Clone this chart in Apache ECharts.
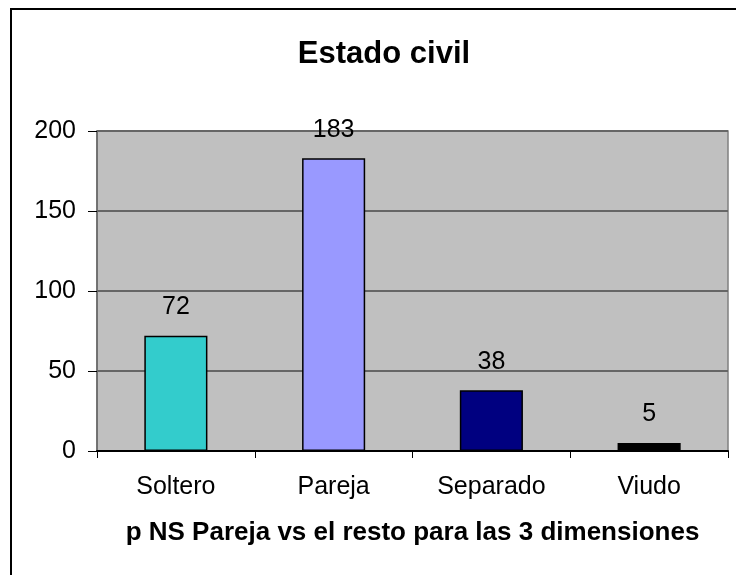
<!DOCTYPE html>
<html>
<head>
    <meta charset="utf-8">
    <title>Estado civil</title>
    <script src="https://cdn.jsdelivr.net/npm/echarts@6/dist/echarts.min.js"></script>
    <style>
        html, body { margin: 0; padding: 0; background: #fff; }
        #main { width: 736px; height: 575px; }
    </style>
</head>
<body>
<div id="main"></div>
<script type="text/javascript">
    var categories = ['Soltero', 'Pareja', 'Separado', 'Viudo'];
    var values = [72, 183, 38, 5];
    var barColors = ['#33CCCC', '#9999FF', '#000080', '#000000'];
    var yTicks = [0, 50, 100, 150, 200];

    var font = 'Liberation Sans, Arial, sans-serif';
    var myChart = echarts.init(document.getElementById('main'));

    var option = {
        animation: false,
        title: {
            text: 'Estado civil',
            left: 379,
            top: 34,
            textAlign: 'center',
            textStyle: { fontFamily: font, fontSize: 31, fontWeight: 'bold', color: '#000' }
        },
        grid: {
            left: 97, top: 131, right: 8, bottom: 124,
            show: true,
            backgroundColor: '#C0C0C0',
            borderColor: '#808080',
            borderWidth: 1.5
        },
        xAxis: {
            type: 'category',
            data: categories,
            name: 'p NS Pareja vs el resto para las 3 dimensiones',
            nameLocation: 'middle',
            nameGap: 69,
            nameTextStyle: { fontFamily: font, fontSize: 26, fontWeight: 'bold', color: '#000' },
            axisLine: { lineStyle: { color: '#000', width: 2 } },
            axisTick: { show: true, length: 7, lineStyle: { color: '#000', width: 1 } },
            axisLabel: { fontFamily: font, fontSize: 25, color: '#000', margin: 24 }
        },
        yAxis: {
            type: 'value',
            min: yTicks[0],
            max: yTicks[yTicks.length - 1],
            interval: 50,
            axisLine: { show: true, lineStyle: { color: '#666', width: 1.5 } },
            axisTick: { show: true, length: 9, lineStyle: { color: '#000', width: 1 } },
            axisLabel: { fontFamily: font, fontSize: 25, color: '#000', margin: 21 },
            splitLine: { lineStyle: { color: '#666', width: 2 } }
        },
        series: [
            {
                type: 'bar',
                barWidth: '40%',
                data: values.map(function (v, i) {
                    return { value: v, itemStyle: { color: barColors[i] } };
                }),
                itemStyle: { borderColor: '#000', borderWidth: 1.5 },
                label: {
                    show: true,
                    position: 'top',
                    distance: 16,
                    fontFamily: font,
                    fontSize: 25,
                    color: '#000'
                }
            }
        ],
        graphic: [
            {
                type: 'rect',
                shape: { x: 11, y: 9, width: 800, height: 700 },
                style: { fill: 'none', stroke: '#000', lineWidth: 2 },
                silent: true
            }
        ]
    };
    myChart.setOption(option);

    window.onresize = myChart.resize;
</script>
</body>
</html>
